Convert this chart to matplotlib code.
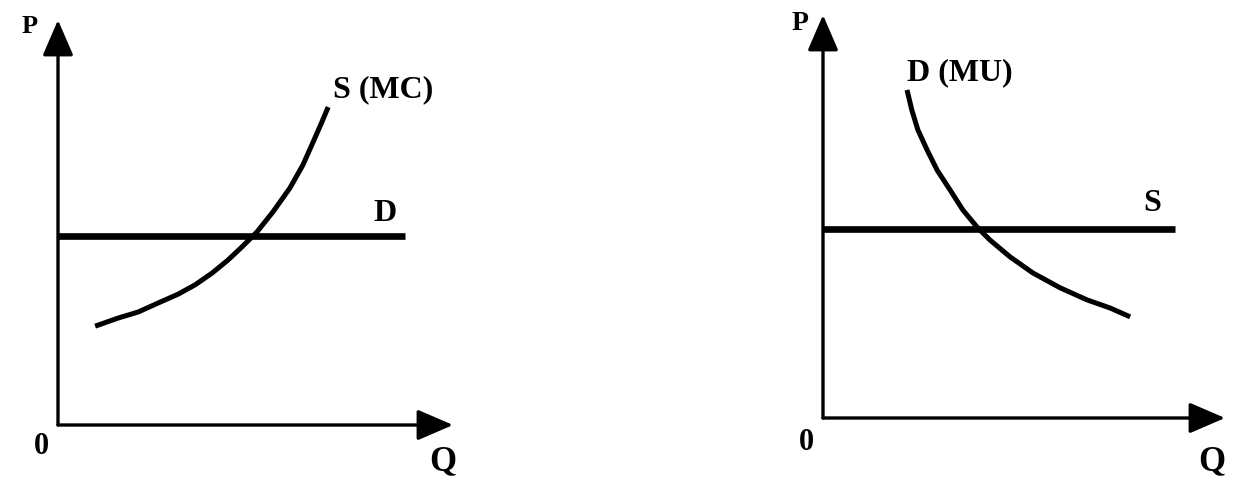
"""
Two P-Q diagrams: S(MC) against a flat D, and D(MU) against a flat S
"""

import matplotlib
matplotlib.use('Agg')
import matplotlib.pyplot as plt

# Left panel: rising marginal cost curve, flat demand
mc_q = [0.94, 1.52, 2.03, 2.53, 3.04, 3.47, 3.90, 4.30, 4.66, 5.04,
        5.44, 5.87, 6.20, 6.46, 6.68, 6.84]
mc_p = [2.44, 2.64, 2.79, 3.01, 3.23, 3.46, 3.75, 4.07, 4.40, 4.77,
        5.26, 5.85, 6.42, 6.99, 7.48, 7.85]
d_flat_p = 4.67
d_flat_end = 8.78

# Right panel: falling marginal utility curve, flat supply
mu_q = [2.09, 2.21, 2.36, 2.59, 2.84, 3.16, 3.48, 3.83, 4.15, 4.65,
        5.22, 5.90, 6.57, 7.14, 7.64]
mu_p = [8.14, 7.64, 7.15, 6.65, 6.15, 5.66, 5.16, 4.74, 4.42, 4.00,
        3.60, 3.23, 2.93, 2.73, 2.51]
s_flat_p = 4.69
s_flat_end = 8.76

W, H = 1243, 478
FONT = 'Liberation Serif'


def draw_axes(ax):
    ax.set_xlim(0, 10)
    ax.set_ylim(0, 10)
    ax.axis('off')
    arrow = dict(arrowstyle='-|>,head_length=2.2,head_width=0.95',
                 mutation_scale=10, lw=2.4, color='black',
                 shrinkA=0, shrinkB=0)
    ax.annotate('', xy=(10, 0), xytext=(0, 0), arrowprops=arrow,
                annotation_clip=False)
    ax.annotate('', xy=(0, 10), xytext=(0, 0), arrowprops=arrow,
                annotation_clip=False)


def label(ax, x, y, s, size, ha='center'):
    ax.text(x, y, s, fontsize=size, fontweight='bold', family=FONT,
            ha=ha, va='center', clip_on=False)


fig = plt.figure(figsize=(W / 100, H / 100), dpi=100)

# left diagram, origin at (58, 425) px
ax1 = fig.add_axes([58 / W, (H - 425) / H, 395 / W, 405 / H])
draw_axes(ax1)
ax1.plot(mc_q, mc_p, color='black', lw=3.6, solid_capstyle='butt',
         solid_joinstyle='round')
ax1.plot([0, d_flat_end], [d_flat_p, d_flat_p], color='black', lw=4.8,
         solid_capstyle='butt')
label(ax1, 6.96, 8.27, 'S (MC)', 23, ha='left')
label(ax1, 8.28, 5.23, 'D', 23)
label(ax1, -0.71, 9.83, 'P', 19)
label(ax1, -0.43, -0.54, '0', 22)
label(ax1, 9.75, -0.91, 'Q', 25)

# right diagram, origin at (823, 418) px
ax2 = fig.add_axes([823 / W, (H - 418) / H, 402 / W, 403 / H])
draw_axes(ax2)
ax2.plot(mu_q, mu_p, color='black', lw=3.6, solid_capstyle='butt',
         solid_joinstyle='round')
ax2.plot([0, s_flat_end], [s_flat_p, s_flat_p], color='black', lw=4.8,
         solid_capstyle='butt')
label(ax2, 2.09, 8.56, 'D (MU)', 23, ha='left')
label(ax2, 8.18, 5.33, 'S', 23)
label(ax2, -0.57, 9.78, 'P', 20)
label(ax2, -0.40, -0.60, '0', 22)
label(ax2, 9.68, -1.09, 'Q', 25)

fig.savefig('out.png', dpi=100)
